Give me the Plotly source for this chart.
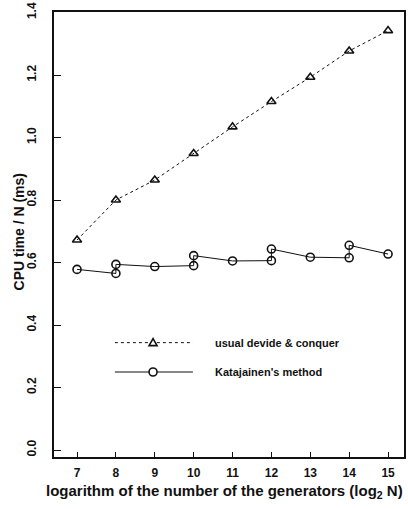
import plotly.graph_objects as go

# Data
x_dc = [7, 8, 9, 10, 11, 12, 13, 14, 15]
y_dc = [0.672, 0.800, 0.864, 0.949, 1.034, 1.115, 1.193, 1.277, 1.342]

x_kat = [7, 8, 8, 9, 10, 10, 11, 12, 12, 13, 14, 14, 15]
y_kat = [0.578, 0.565, 0.594, 0.587, 0.590, 0.622, 0.605, 0.606, 0.643, 0.617, 0.615, 0.655, 0.627]

x_ticks = [7, 8, 9, 10, 11, 12, 13, 14, 15]
y_ticks = [0.0, 0.2, 0.4, 0.6, 0.8, 1.0, 1.2, 1.4]
y_ticklabels = ["0.0", "0.2", "0.4", "0.6", "0.8", "1.0", "1.2", "1.4"]

legend_names = ["usual devide & conquer", "Katajainen's method"]
x_title = "logarithm of the number of the generators (log<sub>2</sub> N)"
y_title = "CPU time / N (ms)"

FONT = "Liberation Sans"
INK = "#111111"

fig = go.Figure()
fig.add_trace(go.Scatter(
    x=x_dc, y=y_dc, mode="lines+markers", name=legend_names[0],
    line=dict(color=INK, width=1, dash="dot"),
    marker=dict(symbol="triangle-up-open", size=8, color=INK, line=dict(width=1.6)),
    showlegend=False))
fig.add_trace(go.Scatter(
    x=x_kat, y=y_kat, mode="lines+markers", name=legend_names[1],
    line=dict(color=INK, width=1),
    marker=dict(symbol="circle-open", size=8, color=INK, line=dict(width=1.6)),
    showlegend=False))

# Hand-drawn style legend (paper coordinates)
leg_x0, leg_x1, leg_xm, leg_tx = 0.174, 0.397, 0.283, 0.454
leg_y = [0.257, 0.191]
shapes = []
annotations = []
for i, (yy, dash) in enumerate(zip(leg_y, ["dot", "solid"])):
    shapes.append(dict(type="line", xref="paper", yref="paper", x0=leg_x0, x1=leg_x1,
                       y0=yy, y1=yy, line=dict(color=INK, width=1, dash=dash)))
    annotations.append(dict(xref="paper", yref="paper", x=leg_tx, y=yy, xanchor="left",
                            yanchor="middle", showarrow=False, text=legend_names[i],
                            font=dict(family=FONT, size=11, color=INK, weight="bold")))
# triangle marker
shapes.append(dict(type="path", xref="paper", yref="paper", xsizemode="pixel", ysizemode="pixel",
                   xanchor=leg_xm, yanchor=leg_y[0],
                   path="M -4,-3 L 4,-3 L 0,4 Z", fillcolor="white",
                   line=dict(color=INK, width=1.6)))
shapes.append(dict(type="circle", xref="paper", yref="paper", xsizemode="pixel", ysizemode="pixel",
                   xanchor=leg_xm, yanchor=leg_y[1], x0=-4, x1=4, y0=-4, y1=4,
                   fillcolor="white", line=dict(color=INK, width=1.6)))

# Axis titles as annotations for exact placement
annotations.append(dict(xref="paper", yref="paper", x=0.487, y=-0.0765, xanchor="center",
                        yanchor="middle", showarrow=False, text=x_title,
                        font=dict(family=FONT, size=15, color=INK, weight="bold")))
annotations.append(dict(xref="paper", yref="paper", x=-0.101, y=0.506, xanchor="center",
                        yanchor="middle", showarrow=False, text=y_title, textangle=-90,
                        font=dict(family=FONT, size=14, color=INK, weight="bold")))

fig.update_layout(
    width=408, height=509,
    margin=dict(l=54, r=4, t=12, b=52),
    paper_bgcolor="white", plot_bgcolor="white",
    font=dict(family=FONT, color=INK),
    shapes=shapes, annotations=annotations,
    xaxis=dict(range=[6.408, 15.41], tickvals=x_ticks, ticks="inside", ticklen=5,
               tickwidth=1.2, tickcolor=INK, showgrid=False, zeroline=False,
               showline=True, linecolor=INK, linewidth=1.5, mirror=True,
               automargin=False, ticklabelstandoff=4,
               tickfont=dict(family=FONT, size=12, color=INK, weight="bold")),
    yaxis=dict(range=[-0.0224, 1.4016], tickvals=y_ticks, ticktext=y_ticklabels,
               ticks="inside", ticklen=7, tickwidth=1.2, tickcolor=INK, tickangle=-90,
               showgrid=False, zeroline=False, showline=True, linecolor=INK, linewidth=1.5,
               mirror=True, automargin=False, ticklabelstandoff=11,
               ticklabeloverflow="allow",
               tickfont=dict(family=FONT, size=12, color=INK, weight="bold")),
)

fig.write_html("out.html", config={"displayModeBar": False},
               post_script="document.body.style.margin='0px';document.body.style.overflow='hidden';")
